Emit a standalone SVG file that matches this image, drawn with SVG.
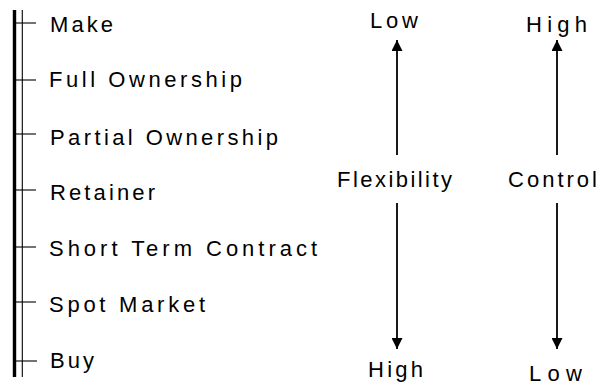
<svg xmlns="http://www.w3.org/2000/svg" width="611" height="385" viewBox="0 0 611 385">
  <style>
    text { font-family: "Liberation Sans", Arial, sans-serif; font-size: 22px; fill: #000; }
    .axis-thick { stroke: #000; stroke-width: 3.4; fill: none; }
    .axis-thin { stroke: #000; stroke-width: 1.1; fill: none; }
    .tick { stroke: #000; stroke-width: 1.1; fill: none; }
    .arrow { stroke: #000; stroke-width: 1.8; fill: none; marker-end: url(#head); }
  </style>
  <defs>
    <marker id="head" markerUnits="userSpaceOnUse" markerWidth="11" markerHeight="11" refX="11" refY="5.5" orient="auto" viewBox="0 0 11 11">
      <path d="M0,0 L11,5.5 L0,11 Z" fill="#000"/>
    </marker>
  </defs>

  <rect width="611" height="385" fill="#fff"/>

  <!-- double vertical scale on the left -->
  <g id="scale">
    <line class="axis-thick" x1="14.5" y1="10" x2="14.5" y2="377"/>
    <line class="axis-thin" x1="22.3" y1="10" x2="22.3" y2="377"/>
  </g>

  <g id="make">
    <line class="tick" x1="14" y1="23" x2="36" y2="23"/>
    <text x="50" y="32" textLength="63" lengthAdjust="spacing">Make</text>
  </g>
  <g id="full-ownership">
    <line class="tick" x1="14" y1="80" x2="36" y2="80"/>
    <text x="49" y="87" textLength="193" lengthAdjust="spacing">Full Ownership</text>
  </g>
  <g id="partial-ownership">
    <line class="tick" x1="14" y1="134" x2="36" y2="134"/>
    <text x="50" y="145" textLength="228" lengthAdjust="spacing">Partial Ownership</text>
  </g>
  <g id="retainer">
    <line class="tick" x1="14" y1="190" x2="36" y2="190"/>
    <text x="50" y="200" textLength="105" lengthAdjust="spacing">Retainer</text>
  </g>
  <g id="short-term-contract">
    <line class="tick" x1="14" y1="247" x2="36" y2="247"/>
    <text x="49" y="256" textLength="268" lengthAdjust="spacing">Short Term Contract</text>
  </g>
  <g id="spot-market">
    <line class="tick" x1="14" y1="302" x2="36" y2="302"/>
    <text x="49" y="312" textLength="156" lengthAdjust="spacing">Spot Market</text>
  </g>
  <g id="buy">
    <line class="tick" x1="14" y1="361" x2="37" y2="361"/>
    <text x="50" y="368" textLength="44" lengthAdjust="spacing">Buy</text>
  </g>

  <!-- axis labels -->
  <g id="flexibility">
    <text x="337" y="187" textLength="115" lengthAdjust="spacing">Flexibility</text>
    <text x="370" y="28" textLength="48" lengthAdjust="spacing">Low</text>
    <text x="368" y="377" textLength="55" lengthAdjust="spacing">High</text>
  </g>
  <g id="control">
    <text x="508" y="187" textLength="89" lengthAdjust="spacing">Control</text>
    <text x="526" y="32" textLength="61" lengthAdjust="spacing">High</text>
    <text x="529" y="381" textLength="53" lengthAdjust="spacing">Low</text>
  </g>

  <!-- arrows -->
  <g id="connectors">
    <line class="arrow" x1="397" y1="155" x2="397" y2="40"/>
    <line class="arrow" x1="397" y1="203" x2="397" y2="349"/>
    <line class="arrow" x1="557" y1="155" x2="557" y2="40"/>
    <line class="arrow" x1="557" y1="203" x2="557" y2="349"/>
  </g>
</svg>
